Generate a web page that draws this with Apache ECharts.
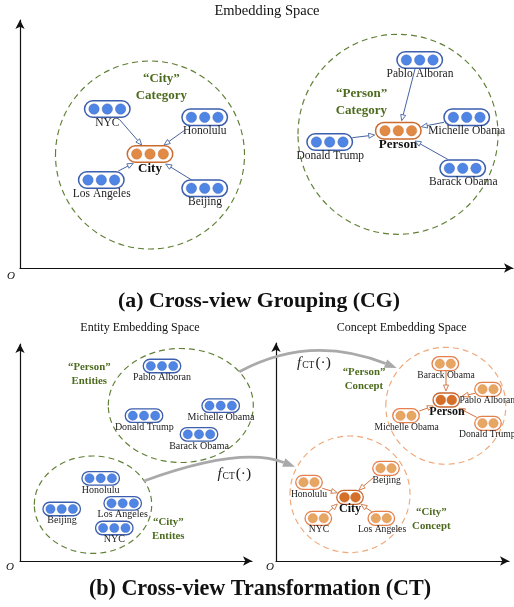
<!DOCTYPE html>
<html><head><meta charset="utf-8">
<style>html,body{margin:0;padding:0;background:#fff}#c{width:514px;height:607px}</style>
<script src="https://cdn.jsdelivr.net/npm/echarts@6/dist/echarts.min.js"></script>
</head><body><div id="c"></div>
<script>
// diagram coordinates: [label, x, y, labelX, labelY]
const cgEntities = [
  ['NYC',107.3,109,107.3,122.7],['Honolulu',204.7,117.3,204.7,131.3],
  ['Los Angeles',101.3,180,101.7,193.7],['Beijing',204.7,188.3,205,202],
  ['Pablo Alboran',419.7,60,420,73.7],['Michelle Obama',466.7,117.3,466.7,131],
  ['Donald Trump',329.7,142,330.3,155.7],['Barack Obama',462.7,168.3,463.3,182]];
const cgConcepts = [['City',150,154,150,168.3],['Person',398.3,130.7,398,144.3]];
const ctEntities = [
  ['Pablo Alboran',162,366,162,377.7],['Michelle Obama',220.7,405.7,221,417.3],
  ['Donald Trump',144,415.7,144.3,427.3],['Barack Obama',199,434.3,199,446],
  ['Honolulu',100.7,478.3,100.7,490],['Los Angeles',122.7,503.3,122.7,514.7],
  ['Beijing',61.7,509,62,520.7],['NYC',114.3,528,114.3,539.3]];
const ctInstances = [
  ['Barack Obama',445.3,363.7,446,375],['Pablo Alboran',488,389.3,487.3,400.7],
  ['Michelle Obama',406,415.7,406.7,427],['Donald Trump',488,423.3,487.3,434.7],
  ['Beijing',386,468.3,386.7,480],['Honolulu',309,482.3,309,494],
  ['NYC',318.3,518.3,319,529.3],['Los Angeles',381.3,518.3,382,529.3]];
const ctConcepts = [['Person',446.3,400,447,412],['City',350,497.3,350,509]];
// [x1,y1,x2,y2]
const cgArrows = [[119.3,119.3,141.7,145],[185,130,164,145],[118.3,171,133.3,163.3],[191.7,180,165.7,164],
  [415,69,401.7,120.7],[444,122.3,421.3,126.7],[352.3,137.7,374.7,135],[447.7,159.3,415,141]];
const ctArrows = [[446,370,446,391],[475,393.3,462.3,396],[419.3,411,433.3,406],[476.7,417.3,459,408.3],
  [373.3,477.7,359,490],[322.3,488.3,337.3,492.7],[327.7,512.7,337.3,504],[371.7,511.7,361,504.3]];
// [cx,cy,rx,ry]
const greenRings = [[150,155,94.5,94],[398,134.3,100,100],[180.8,405.5,72.5,57],[93,504.7,58.7,48.7]];
const orangeRings = [[445.8,405.8,60,58.5],[350,494.3,60,58.3]];
// [x1,y1,cpx,cpy,x2,y2]
const transforms = [[239.3,371.7,310,333.5,396.7,368],[144,481,240,446,295,466.7]];
// [text,x,y]
const greenLabels = [['“City”',161.3,78.7],['Category',161.3,95.3],['“Person”',361.7,94],['Category',361.3,110.7]];
const greenLabelsSmall = [['“Person”',89.3,367.3],['Entities',89.3,381.7],['“City”',168.3,522],['Entites',168.3,536],
  ['“Person”',364,372.7],['Concept',364,386.7],['“City”',431.3,512.7],['Concept',431.3,526.7]];
const titles = [['Embedding Space',267,11,14.5],['Entity Embedding Space',140,328,12],['Concept Embedding Space',401.7,328,12]];
const captions = [['(a) Cross-view Grouping (CG)',259,301],['(b) Cross-view Transformation (CT)',260,589]];
const originLabels = [[11,276],[10,567],[270,567]];
const fLabels = [[314,363.3],[234.3,474]];

const SERIF = '"Liberation Serif","Times New Roman",serif';
const BLUE = {line:'#3b5ead', fill:'#4f86e6'};
const OR = {line:'#cb6a2f', fill:'#e08a45'};
const OL = {line:'#e57f4c', fill:'#e6a763'};
const OD = {line:'#c8642c', fill:'#d4702a'};

function ser(arr, z, fn){
  return {type:'custom',coordinateSystem:'cartesian2d',xAxisIndex:0,yAxisIndex:0,clip:false,silent:true,z:z,
    animation:false,data:arr.map((d,i)=>[d[1]||0,d[2]||0,i]),
    encode:{x:0,y:1},
    renderItem:(p,api)=>fn(arr[p.dataIndex],api)};
}
function pill(n,w,h,r,gap,col,lw){
  return (d,api)=>{
    const c=api.coord([d[1],d[2]]);
    const kids=[{type:'rect',shape:{x:c[0]-w/2,y:c[1]-h/2,width:w,height:h,r:h/2},style:{fill:'#fff',stroke:col.line,lineWidth:lw}}];
    for(let i=0;i<n;i++){
      kids.push({type:'circle',shape:{cx:c[0]+(i-(n-1)/2)*gap,cy:c[1],r:r},style:{fill:col.fill,stroke:col.line,lineWidth:0.4}});
    }
    return {type:'group',children:kids};
  };
}
function label(size,weight,color){
  return (d,api)=>{
    const c=api.coord([d[3],d[4]]);
    return {type:'text',x:c[0],y:c[1],style:{text:d[0],font:weight+' '+size+'px '+SERIF,fill:color,align:'center',verticalAlign:'middle'}};
  };
}
function textAt(size,weight,color){
  return (d,api)=>{
    const c=api.coord([d[1],d[2]]);
    return {type:'text',x:c[0],y:c[1],style:{text:d[0],font:weight+' '+size+'px '+SERIF,fill:color,align:'center',verticalAlign:'middle'}};
  };
}
function ring(color){
  return (d,api)=>{
    const c=api.coord([d[0],d[1]]), e=api.coord([d[0]+d[2],d[1]+d[3]]);
    return {type:'ellipse',shape:{cx:c[0],cy:c[1],rx:e[0]-c[0],ry:e[1]-c[1]},style:{fill:'none',stroke:color,lineWidth:1.15,lineDash:[6,4]}};
  };
}
function arrow(color){
  return (d,api)=>{
    const a=api.coord([d[0],d[1]]), b=api.coord([d[2],d[3]]);
    const t=Math.atan2(b[1]-a[1],b[0]-a[0]), L=6, W=2.5;
    const bx=b[0]-L*Math.cos(t), by=b[1]-L*Math.sin(t);
    const nx=-Math.sin(t)*W, ny=Math.cos(t)*W;
    return {type:'group',children:[
      {type:'line',shape:{x1:a[0],y1:a[1],x2:bx,y2:by},style:{stroke:color,lineWidth:1}},
      {type:'polygon',shape:{points:[[b[0],b[1]],[bx+nx,by+ny],[bx-nx,by-ny]]},style:{fill:'#fff',stroke:color,lineWidth:0.9}}
    ]};
  };
}
function curve(d,api){
  const a=api.coord([d[0],d[1]]), q=api.coord([d[2],d[3]]), b=api.coord([d[4],d[5]]);
  const t=Math.atan2(b[1]-q[1],b[0]-q[0]), L=12, W=4.5;
  const bx=b[0]-L*Math.cos(t), by=b[1]-L*Math.sin(t);
  const nx=-Math.sin(t)*W, ny=Math.cos(t)*W;
  return {type:'group',children:[
    {type:'bezierCurve',shape:{x1:a[0],y1:a[1],cpx1:q[0],cpy1:q[1],x2:bx,y2:by},style:{fill:'none',stroke:'#a9a9a9',lineWidth:2.7}},
    {type:'polygon',shape:{points:[[b[0],b[1]],[bx+nx,by+ny],[bx-nx,by-ny]]},style:{fill:'#a9a9a9'}}
  ]};
}
function fText(d,api){
  const c=api.coord([d[0],d[1]]);
  return {type:'text',x:c[0],y:c[1],style:{text:'{f|f}{s|CT}{p|(·)}',align:'center',verticalAlign:'middle',fill:'#222',
    rich:{f:{font:'italic 15px '+SERIF,fill:'#222'},s:{font:'9.5px '+SERIF,fill:'#222',padding:[4,1,0,1]},p:{font:'15.5px '+SERIF,fill:'#222'}}}};
}
function axisPair(i){
  const line={show:true,onZero:false,lineStyle:{color:'#111',width:1.2},symbol:['none','arrow'],symbolSize:[7,9]};
  return {
    x:{type:'value',gridIndex:i,min:0,max:1,axisLine:line,axisTick:{show:false},axisLabel:{show:false},splitLine:{show:false}},
    y:{type:'value',gridIndex:i,min:0,max:1,axisLine:line,axisTick:{show:false},axisLabel:{show:false},splitLine:{show:false}}
  };
}
const pairs=[1,2,3].map(axisPair);
const chart=echarts.init(document.getElementById('c'),null,{renderer:'canvas'});
chart.setOption({
  animation:false,backgroundColor:'#fff',
  grid:[
    {left:0,top:0,width:514,height:607,show:false},
    {left:20,top:20,width:493,height:248},
    {left:20,top:344,width:232,height:217},
    {left:276,top:343,width:233,height:218}
  ],
  xAxis:[{type:'value',gridIndex:0,min:0,max:514,show:false},...pairs.map(p=>p.x)],
  yAxis:[{type:'value',gridIndex:0,min:0,max:607,inverse:true,show:false},...pairs.map(p=>p.y)],
  series:[
    ser(greenRings,2,ring('#5f7f35')),
    ser(orangeRings,2,ring('#f0a878')),
    ser(transforms,3,curve),
    ser(cgArrows,4,arrow('#46639f')),
    ser(ctArrows,4,arrow('#cf7440')),
    ser(cgEntities,5,pill(3,45.5,16.5,5.2,13.3,BLUE,1.5)),
    ser(cgConcepts,5,pill(3,45.5,16.5,5.2,13.3,OR,1.5)),
    ser(ctEntities,5,pill(3,37.5,13.5,4.6,11.2,BLUE,1.3)),
    ser(ctInstances,5,pill(2,26.5,14,4.7,11,OL,1.3)),
    ser(ctConcepts,5,pill(2,26.5,14,4.9,11,OD,1.3)),
    ser(cgEntities,6,label(11.5,'normal','#222')),
    ser(cgConcepts,6,label(13,'bold','#111')),
    ser(ctEntities,6,label(10,'normal','#222')),
    ser(ctInstances,6,label(9.6,'normal','#222')),
    ser(ctConcepts,6,label(12,'bold','#111')),
    ser(greenLabels,6,textAt(13,'bold','#4d6b1e')),
    ser(greenLabelsSmall,6,textAt(10.8,'bold','#4d6b1e')),
    ...titles.map(t=>ser([t],6,textAt(t[3],'normal','#111'))),
    ser([captions[0]],6,textAt(21.8,'bold','#111')),
    ser([captions[1]],6,textAt(22.1,'bold','#111')),
    ser(originLabels,6,(d,api)=>{const c=api.coord([d[0],d[1]]);
      return {type:'text',x:c[0],y:c[1],style:{text:'O',font:'italic 11px '+SERIF,fill:'#111',align:'center',verticalAlign:'middle'}};}),
    ser(fLabels,6,fText)
  ]
});
</script></body></html>
